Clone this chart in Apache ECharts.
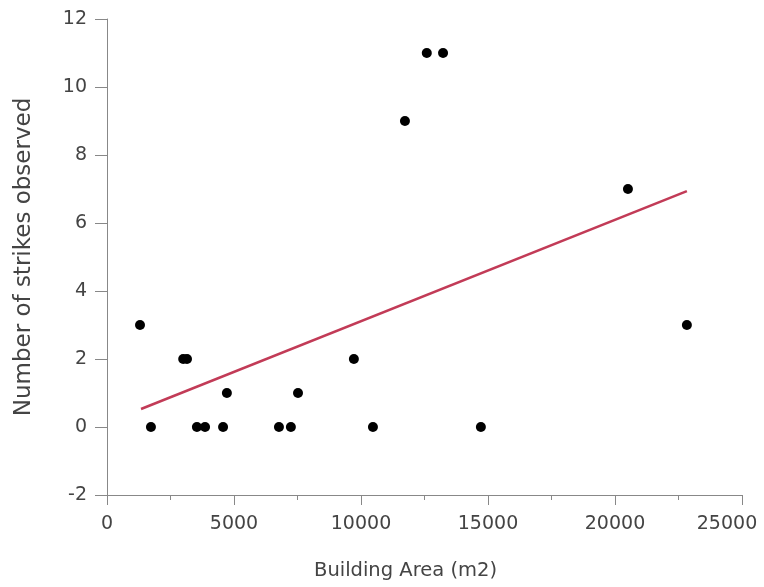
<!DOCTYPE html>
<html>
<head>
<meta charset="utf-8">
<script src="https://cdn.jsdelivr.net/npm/echarts@6/dist/echarts.min.js"></script>
<style>html,body{margin:0;padding:0;background:#fff;}#c{width:764px;height:587px;}</style>
</head>
<body>
<div id="c"></div>
<script>
const areaX = [1300, 1730, 3000, 3150, 3540, 3860, 4570, 4720, 6770, 7240, 7520, 9720, 10470, 11730, 12590, 13230, 14720, 20510, 22830];
const strikesY = [3, 0, 2, 2, 0, 0, 0, 1, 0, 0, 1, 2, 0, 9, 11, 11, 0, 7, 3];
const fitX = [1340, 22830];
const fitY = [0.53, 6.94];
const xTicks = [0, 5000, 10000, 15000, 20000, 25000];
const yTicks = [-2, 0, 2, 4, 6, 8, 10, 12];

const chart = echarts.init(document.getElementById('c'));
const font = 'DejaVu Sans';
const xMax = xTicks[xTicks.length - 1];
chart.setOption({
  animation: false,
  backgroundColor: '#fff',
  grid: { left: 107, right: 22, top: 19, bottom: 92, containLabel: false, outerBoundsMode: 'none' },
  xAxis: {
    type: 'value', min: xTicks[0], max: xMax, interval: 5000,
    name: 'Building Area (m2)', nameLocation: 'middle', nameGap: 66,
    nameTextStyle: { fontFamily: font, fontSize: 19.5, color: '#444', padding: [0, 38, 0, 0] },
    axisLine: { show: true, onZero: false, lineStyle: { color: '#888', width: 1 } },
    axisTick: { show: true, length: 10, lineStyle: { color: '#888' } },
    minorTick: { show: true, splitNumber: 2, length: 5, lineStyle: { color: '#888' } },
    axisLabel: {
      fontFamily: font, fontSize: 19, color: '#444', margin: 20,
      formatter: v => (v === xMax ? '{m|' + v + '}' : String(v)),
      rich: { m: { fontFamily: font, fontSize: 19, color: '#444', padding: [0, 30, 0, 0] } }
    },
    splitLine: { show: false }
  },
  yAxis: {
    type: 'value', min: yTicks[0], max: yTicks[yTicks.length - 1], interval: 2,
    name: 'Number of strikes observed', nameLocation: 'middle', nameGap: 71,
    nameTextStyle: { fontFamily: font, fontSize: 23, color: '#444' },
    axisLine: { show: true, onZero: false, lineStyle: { color: '#888', width: 1 } },
    axisTick: { show: true, length: 12, lineStyle: { color: '#888' } },
    axisLabel: { fontFamily: font, fontSize: 19, color: '#444', margin: 20, formatter: v => String(v) },
    splitLine: { show: false }
  },
  series: [
    {
      type: 'line', data: fitX.map((x, i) => [x, fitY[i]]),
      showSymbol: false, symbol: 'none',
      lineStyle: { color: '#c23b57', width: 2.5 }, z: 2
    },
    {
      type: 'scatter', data: areaX.map((x, i) => [x, strikesY[i]]),
      symbol: 'circle', symbolSize: 10,
      itemStyle: { color: '#000', opacity: 1 }, z: 3
    }
  ]
});
</script>
</body>
</html>
